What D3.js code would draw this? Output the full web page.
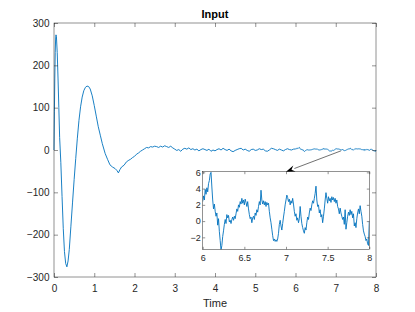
<!DOCTYPE html>
<html>
<head>
<meta charset="utf-8">
<script src="https://cdn.jsdelivr.net/npm/d3@7"></script>
<style>
html,body{margin:0;padding:0;background:#fff;}
svg{display:block;}
text{font-family:"Liberation Sans",Arial,Helvetica,sans-serif;}
</style>
</head>
<body>
<svg id="chart" width="415" height="312"></svg>
<script>
// ---------- data ----------
const titleText = "Input";
const xLabelText = "Time";
const mainXTicks = [0,1,2,3,4,5,6,7,8];
const mainYTicks = [-300,-200,-100,0,100,200,300];
const insetXTicks = [6,6.5,7,7.5,8];
const insetYTicks = [-2,0,2,4,6];

// transient part (0..6 s)
const mainTime = [0.00,0.01,0.02,0.03,0.04,0.05,0.06,0.08,0.10,0.12,0.14,0.17,0.20,0.23,0.26,0.29,0.32,0.35,0.38,0.42,0.46,0.50,0.54,0.58,0.62,0.66,0.70,0.74,0.78,0.82,0.86,0.90,0.95,1.00,1.05,1.10,1.15,1.20,1.27,1.33,1.39,1.45,1.52,1.56,1.60,1.64,1.68,1.74,1.80,1.86,1.90,1.95,2.00,2.05,2.10,2.15,2.20,2.25,2.30,2.35,2.40,2.45,2.50,2.55,2.60,2.65,2.70,2.75,2.80,2.85,2.90,2.95,3.00,3.05,3.10,3.15,3.20,3.25,3.30,3.35,3.40,3.45,3.50,3.55,3.60,3.65,3.70,3.75,3.80,3.85,3.90,3.95,4.00,4.05,4.10,4.15,4.20,4.25,4.30,4.35,4.40,4.45,4.50,4.55,4.60,4.65,4.70,4.75,4.80,4.85,4.90,4.95,5.00,5.05,5.10,5.15,5.20,5.25,5.30,5.35,5.40,5.45,5.50,5.55,5.60,5.65,5.70,5.75,5.80,5.85,5.90,5.95];
const mainValue = [0,90,170,230,262,272,268,230,170,100,30,-30,-110,-185,-240,-268,-276,-262,-235,-180,-125,-70,-20,28,70,102,125,140,148,151,150,144,128,105,80,55,35,15,-8,-22,-35,-40,-44,-48,-54,-46,-40,-36,-28,-24,-22,-18,-15,-10,-7,-3,0,3,6,5,8,7,9,8,6,9,7,10,8,6,9,5,2,-1,1,-3,2,4,2,5,1,3,0,2,-2,1,3,1,-1,2,-3,0,-2,1,3,0,4,1,-1,2,-2,-4,-1,1,3,4,0,2,-1,-3,1,2,-1,0,3,1,2,-2,-3,0,4,3,1,-1,2,0,-2,1,3,1,0,2];

// detail part (6..8 s), also shown in the inset
const insetTime = [6.00,6.01,6.02,6.03,6.04,6.05,6.06,6.07,6.08,6.09,6.10,6.11,6.12,6.13,6.14,6.15,6.16,6.17,6.18,6.19,6.20,6.21,6.22,6.23,6.24,6.25,6.26,6.27,6.28,6.29,6.30,6.31,6.32,6.33,6.34,6.35,6.36,6.37,6.38,6.39,6.40,6.41,6.42,6.43,6.44,6.45,6.46,6.47,6.48,6.49,6.50,6.51,6.52,6.53,6.54,6.55,6.56,6.57,6.58,6.59,6.60,6.61,6.62,6.63,6.64,6.65,6.66,6.67,6.68,6.69,6.70,6.71,6.72,6.73,6.74,6.75,6.76,6.77,6.78,6.79,6.80,6.81,6.82,6.83,6.84,6.85,6.86,6.87,6.88,6.89,6.90,6.91,6.92,6.93,6.94,6.95,6.96,6.97,6.98,6.99,7.00,7.01,7.02,7.03,7.04,7.05,7.06,7.07,7.08,7.09,7.10,7.11,7.12,7.13,7.14,7.15,7.16,7.17,7.18,7.19,7.20,7.21,7.22,7.23,7.24,7.25,7.26,7.27,7.28,7.29,7.30,7.31,7.32,7.33,7.34,7.35,7.36,7.37,7.38,7.39,7.40,7.41,7.42,7.43,7.44,7.45,7.46,7.47,7.48,7.49,7.50,7.51,7.52,7.53,7.54,7.55,7.56,7.57,7.58,7.59,7.60,7.61,7.62,7.63,7.64,7.65,7.66,7.67,7.68,7.69,7.70,7.71,7.72,7.73,7.74,7.75,7.76,7.77,7.78,7.79,7.80,7.81,7.82,7.83,7.84,7.85,7.86,7.87,7.88,7.89,7.90,7.91,7.92,7.93,7.94,7.95,7.96,7.97,7.98,7.99,8.00];
const insetValue = [2.4,3.1,2.6,3.9,3.3,4.1,3.6,4.6,5.0,5.8,6.0,4.2,2.6,1.5,2.1,1.2,0.6,1.0,-0.5,0.3,-1.3,-2.4,-3.6,-3.0,-1.9,-1.2,-0.4,0.2,-0.3,0.8,0.4,0.7,-0.1,0.1,-0.3,0.2,0.5,0.1,0.6,0.3,0.9,1.5,1.2,2.0,1.7,2.4,2.1,2.8,2.2,2.6,2.0,2.7,2.3,1.8,2.4,1.5,0.8,0.3,0.5,-0.2,0.4,0.6,0.2,1.0,0.7,1.4,1.1,1.8,2.4,2.0,3.8,2.6,2.1,2.5,2.0,2.4,1.8,2.3,2.0,2.2,1.2,0.4,-0.2,-1.0,-1.8,-2.4,-2.2,-2.5,-2.3,-2.5,-2.2,-1.5,-0.4,0.1,-0.6,-1.1,-0.3,0.5,1.2,2.0,2.6,3.2,2.9,2.4,2.7,2.0,2.5,2.2,2.8,2.1,1.2,0.6,0.9,0.1,0.4,-0.2,0.3,1.8,0.6,-0.3,-0.8,-1.2,-1.5,-0.8,-1.1,-0.2,0.5,0.2,1.0,1.6,1.3,2.0,2.5,2.2,2.8,3.4,4.3,2.6,1.8,2.0,1.0,1.4,0.5,0.8,-0.2,0.6,1.5,2.6,3.5,2.8,2.2,3.0,2.5,2.8,2.3,3.0,2.6,2.9,2.4,2.8,2.2,2.6,1.8,1.5,0.9,1.6,1.0,0.6,0.2,0.5,-0.4,1.4,-1.0,-0.2,0.6,1.1,0.7,1.4,0.8,1.2,0.4,0.9,-0.6,-0.2,-0.8,0.3,1.0,1.5,0.9,1.9,1.2,0.6,-0.4,-1.2,-1.6,-1.9,-2.4,-2.2,-2.8,-3.0,0.0];

// arrow: from a point on the main curve to the top of the inset
const arrowTail = [7.13, -2];   // main-axes data coords
const arrowHead = [7.0, 6.08];  // inset data coords

// ---------- layout ----------
const svg = d3.select("#chart");
const lineColor = "#0072BD";
const axisColor = "#262626";

const main = {left:54, right:376, top:23, bottom:277};
const ins = {left:202.7, right:369.3, top:171.7, bottom:249.3};

const x = d3.scaleLinear().domain([0,8]).range([main.left, main.right]);
const y = d3.scaleLinear().domain([-300,300]).range([main.bottom, main.top]);
const xi = d3.scaleLinear().domain([6,8]).range([ins.left, ins.right]);
const yi = d3.scaleLinear().domain([-3.47,6.08]).range([ins.bottom, ins.top]);

const mainData = mainTime.map((t,i)=>[t, mainValue[i]])
  .concat(insetTime.map((t,i)=>[t, insetValue[i]]));
const insetData = insetTime.map((t,i)=>[t, insetValue[i]]);

function styleAxis(g, fs){
  g.select(".domain").remove();
  g.selectAll(".tick line").attr("stroke", axisColor).attr("stroke-width", 0.5);
  g.selectAll(".tick text").attr("fill", axisColor).style("font-size", fs+"px")
    .style("font-family", '"Liberation Sans",Arial,Helvetica,sans-serif');
}

// ---------- main axes ----------
const gMain = svg.append("g");
gMain.append("rect").attr("x", main.left).attr("y", main.top)
  .attr("width", main.right-main.left).attr("height", main.bottom-main.top)
  .attr("fill", "#fff");

gMain.append("path").datum(mainData)
  .attr("fill","none").attr("stroke", lineColor).attr("stroke-width", 0.9)
  .attr("stroke-linejoin","round")
  .attr("d", d3.line().x(d=>x(d[0])).y(d=>y(d[1])));

gMain.append("g").attr("transform",`translate(0,${main.bottom})`)
  .call(d3.axisBottom(x).tickValues(mainXTicks).tickSize(-4).tickPadding(8).tickFormat(d3.format("d")))
  .call(g=>styleAxis(g,10));
gMain.append("g").attr("transform",`translate(0,${main.top})`)
  .call(d3.axisTop(x).tickValues(mainXTicks).tickSize(-4).tickFormat(""))
  .call(g=>styleAxis(g,10));
gMain.append("g").attr("transform",`translate(${main.left},0)`)
  .call(d3.axisLeft(y).tickValues(mainYTicks).tickSize(-4).tickPadding(4.5).tickFormat(d3.format("d")))
  .call(g=>styleAxis(g,10));
gMain.append("g").attr("transform",`translate(${main.right},0)`)
  .call(d3.axisRight(y).tickValues(mainYTicks).tickSize(-4).tickFormat(""))
  .call(g=>styleAxis(g,10));

gMain.append("rect").attr("x", main.left).attr("y", main.top)
  .attr("width", main.right-main.left).attr("height", main.bottom-main.top)
  .attr("fill","none").attr("stroke", axisColor).attr("stroke-width", 0.5);

svg.append("text").attr("x", (main.left+main.right)/2).attr("y", 17.7)
  .attr("text-anchor","middle").attr("fill","#000")
  .style("font-size","11px").style("font-weight","bold").text(titleText);
svg.append("text").attr("x", (main.left+main.right)/2).attr("y", 306.5)
  .attr("text-anchor","middle").attr("fill", axisColor)
  .style("font-size","11px").text(xLabelText);

// ---------- inset axes ----------
const gIn = svg.append("g");
gIn.append("rect").attr("x", ins.left).attr("y", ins.top)
  .attr("width", ins.right-ins.left).attr("height", ins.bottom-ins.top)
  .attr("fill","#fff");
svg.append("clipPath").attr("id","insClip").append("rect")
  .attr("x", ins.left).attr("y", ins.top)
  .attr("width", ins.right-ins.left).attr("height", ins.bottom-ins.top);
gIn.append("path").datum(insetData)
  .attr("clip-path","url(#insClip)")
  .attr("fill","none").attr("stroke", lineColor).attr("stroke-width", 0.9)
  .attr("stroke-linejoin","round")
  .attr("d", d3.line().x(d=>xi(d[0])).y(d=>yi(d[1])));

gIn.append("g").attr("transform",`translate(0,${ins.bottom})`)
  .call(d3.axisBottom(xi).tickValues(insetXTicks).tickSize(-2.5).tickPadding(5.8).tickFormat(d3.format("")))
  .call(g=>styleAxis(g,9));
gIn.append("g").attr("transform",`translate(0,${ins.top})`)
  .call(d3.axisTop(xi).tickValues(insetXTicks).tickSize(-2.5).tickFormat(""))
  .call(g=>styleAxis(g,9));
gIn.append("g").attr("transform",`translate(${ins.left},0)`)
  .call(d3.axisLeft(yi).tickValues(insetYTicks).tickSize(-2.5).tickPadding(2).tickFormat(d3.format("d")))
  .call(g=>styleAxis(g,9));
gIn.append("g").attr("transform",`translate(${ins.right},0)`)
  .call(d3.axisRight(yi).tickValues(insetYTicks).tickSize(-2.5).tickFormat(""))
  .call(g=>styleAxis(g,9));
gIn.append("rect").attr("x", ins.left).attr("y", ins.top)
  .attr("width", ins.right-ins.left).attr("height", ins.bottom-ins.top)
  .attr("fill","none").attr("stroke", axisColor).attr("stroke-width", 0.5);

// ---------- arrow ----------
const tx = x(arrowTail[0]), ty = y(arrowTail[1]);
const hx = xi(arrowHead[0]), hy = yi(arrowHead[1]);
const ang = Math.atan2(hy-ty, hx-tx);
const hl = 9, hw = 3.2;
const bx = hx - hl*Math.cos(ang), by = hy - hl*Math.sin(ang);
svg.append("line").attr("x1",tx).attr("y1",ty).attr("x2",bx).attr("y2",by)
  .attr("stroke","#333").attr("stroke-width",0.7);
svg.append("path")
  .attr("d", `M${hx},${hy}L${bx - hw*Math.sin(ang)},${by + hw*Math.cos(ang)}L${bx + 0.35*hl*Math.cos(ang)},${by + 0.35*hl*Math.sin(ang)}L${bx + hw*Math.sin(ang)},${by - hw*Math.cos(ang)}Z`)
  .attr("fill","#000");
</script>
</body>
</html>
